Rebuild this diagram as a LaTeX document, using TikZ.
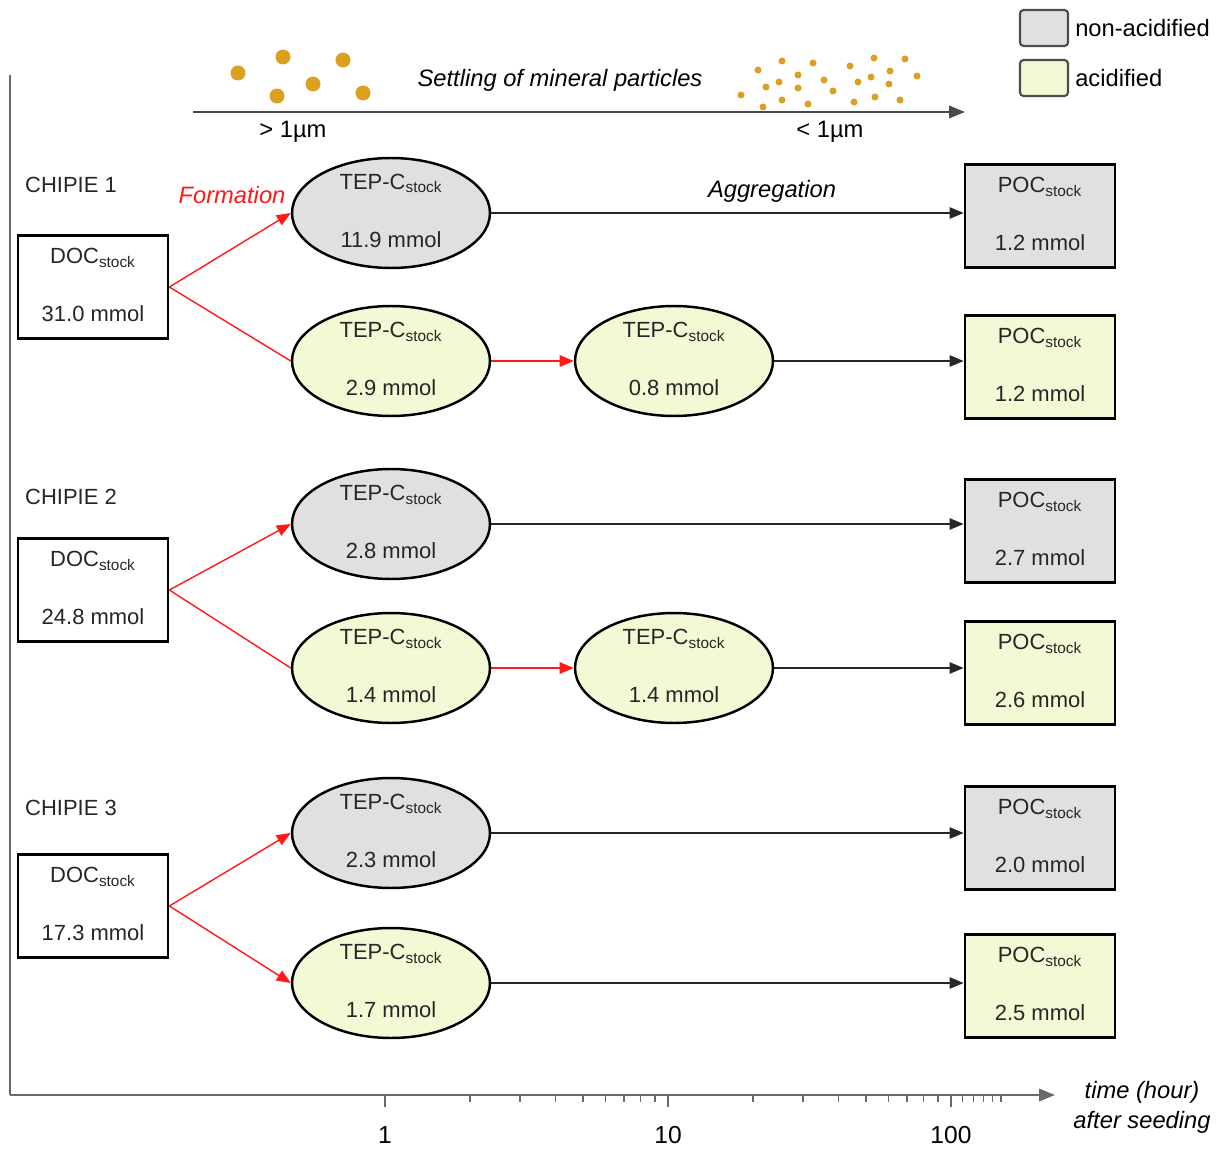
\documentclass[tikz,border=0pt]{standalone}
\usepackage{fontspec}
\setmainfont{Liberation Sans}
\usepackage{tikz}
\usetikzlibrary{arrows.meta, shapes.geometric, calc}
\definecolor{nonAcid}{RGB}{224, 224, 224}
\definecolor{acid}{RGB}{241, 250, 213}
\definecolor{mineral}{RGB}{218, 160, 30}
\definecolor{axGray}{RGB}{105, 105, 105}
\newcommand{\stk}{\textsubscript{stock}}
\newcommand{\twolines}[2]{\smash{\raisebox{-3.4pt}{\begin{tabular}{@{}c@{}}#1\\[19.7pt]#2\end{tabular}}}}

\begin{document}
\begin{tikzpicture}[
        x=0.02cm, y=-0.02cm,
        font=\fontsize{12.5}{13.8}\selectfont\color{black!85},
        tep/.style={ellipse, draw=black, line width=1.4pt, minimum width=3.96cm,
            minimum height=2.2cm, inner sep=0pt},
        stockbox/.style={rectangle, draw=black, line width=1.6pt, minimum width=3.0cm,
            minimum height=2.06cm, inner sep=0pt},
        arr/.style={-{Triangle[length=8pt, width=6.5pt]}, line width=0.8pt, black!85},
        farr/.style={arr, red!90!white},
        fline/.style={line width=0.8pt, red!90!white},
        axarr/.style={-{Triangle[length=9pt, width=7pt]}, line width=1.3pt, axGray},
        lbl/.style={font=\fontsize{13.5}{15}\selectfont\itshape},
        legbox/.style={rectangle, rounded corners=2pt, draw=black!70, line width=1.2pt,
            minimum width=0.96cm, minimum height=0.72cm}
    ]
    \useasboundingbox (0,0) rectangle (1225,1149);

    % legend
    \node[legbox, fill=nonAcid] (legn) at (1044,28) {};
    \node[legbox, fill=acid]    (lega) at (1044,78) {};
    \node[anchor=west, font=\fontsize{13.5}{15}\selectfont] (legnt) at (legn.east) {non-acidified};
    \node[anchor=west, font=\fontsize{13.5}{15}\selectfont] (legat) at (lega.east) {acidified};

    % settling of mineral particles
    \foreach \px/\py in {238/73, 283/57, 343/60, 313/84, 277/96, 363/93}
        \fill[mineral] (\px,\py) circle (0.15cm);
    \foreach \px/\py in {758/70, 782/61, 813/63, 850/66, 874/58, 905/59, 798/75, 779/82,
            824/80, 766/87, 798/88, 858/82, 871/77, 890/71, 917/76, 889/84, 741/95,
            833/91, 782/100, 763/107, 808/104, 854/102, 875/97, 900/100}
        \fill[mineral] (\px,\py) circle (0.07cm);
    \coordinate (s0) at (193,112);
    \coordinate (s1) at (965,112);
    \draw[axarr, axGray!70!black] (s0) -- (s1);
    \node[lbl] (settle) at (560,80) {Settling of mineral particles};
    \node[font=\fontsize{13.5}{15}\selectfont] (big) at (293,132) {> 1µm};
    \node[font=\fontsize{13.5}{15}\selectfont] (small) at (830,132) {< 1µm};

    % time axis
    \coordinate (ytop) at (10,75);
    \coordinate (o) at (10,1095);
    \coordinate (xend) at (1055,1095);
    \draw[axGray, line width=1pt] (ytop) -- (o);
    \draw[axarr] (o) -- (xend);
    \foreach \d/\t in {385/1, 668/10, 951/100} {
        \draw[axGray, line width=0.8pt] (\d,1095) -- ++(0,12);
        \node[font=\fontsize{14}{16}\selectfont] at (\d,1135) {\t};
    }
    \foreach \d in {385, 668}
        \foreach \m in {2,...,9}
            \draw[axGray, line width=0.8pt] ({\d+283*log10(\m)},1095) -- ++(0,7);
    \foreach \m in {1.1, 1.2, 1.3, 1.4, 1.5}
        \draw[axGray, line width=0.8pt] ({951+283*log10(\m)},1095) -- ++(0,7);
    \node[align=center, font=\fontsize{13.5}{17}\selectfont\itshape] (tlab) at (1142,1107)
        {time (hour)\\after seeding};

    % CHIPIE 1
    \node[anchor=west] (c1) at (19,185) {CHIPIE 1};
    \node[stockbox] (doc1) at (93,287) {\twolines{DOC\stk}{31.0 mmol}};
    \node[tep, fill=nonAcid] (tep1n) at (391,213) {\twolines{TEP-C\stk}{11.9 mmol}};
    \node[tep, fill=acid] (tep1a) at (391,361) {\twolines{TEP-C\stk}{2.9 mmol}};
    \node[tep, fill=acid] (tep1b) at (674,361) {\twolines{TEP-C\stk}{0.8 mmol}};
    \node[stockbox, fill=nonAcid] (poc1n) at (1040,216) {\twolines{POC\stk}{1.2 mmol}};
    \node[stockbox, fill=acid] (poc1a) at (1040,367) {\twolines{POC\stk}{1.2 mmol}};
    \node[lbl, red!90!white] (form) at (232,195) {Formation};
    \node[lbl] (agg) at (772,191) {Aggregation};

    \draw[farr] (doc1.east) -- (tep1n.west);
    \draw[fline] (doc1.east) -- (tep1a.west);
    \draw[farr] (tep1a.east) -- (tep1b.west);
    \draw[arr] (tep1n.east) -- (tep1n.east -| poc1n.west);
    \draw[arr] (tep1b.east) -- (tep1b.east -| poc1a.west);

    % CHIPIE 2
    \node[anchor=west] (c2) at (19,497) {CHIPIE 2};
    \node[stockbox] (doc2) at (93,590) {\twolines{DOC\stk}{24.8 mmol}};
    \node[tep, fill=nonAcid] (tep2n) at (391,524) {\twolines{TEP-C\stk}{2.8 mmol}};
    \node[tep, fill=acid] (tep2a) at (391,668) {\twolines{TEP-C\stk}{1.4 mmol}};
    \node[tep, fill=acid] (tep2b) at (674,668) {\twolines{TEP-C\stk}{1.4 mmol}};
    \node[stockbox, fill=nonAcid] (poc2n) at (1040,531) {\twolines{POC\stk}{2.7 mmol}};
    \node[stockbox, fill=acid] (poc2a) at (1040,673) {\twolines{POC\stk}{2.6 mmol}};

    \draw[farr] (doc2.east) -- (tep2n.west);
    \draw[fline] (doc2.east) -- (tep2a.west);
    \draw[farr] (tep2a.east) -- (tep2b.west);
    \draw[arr] (tep2n.east) -- (tep2n.east -| poc2n.west);
    \draw[arr] (tep2b.east) -- (tep2b.east -| poc2a.west);

    % CHIPIE 3
    \node[anchor=west] (c3) at (19,808) {CHIPIE 3};
    \node[stockbox] (doc3) at (93,906) {\twolines{DOC\stk}{17.3 mmol}};
    \node[tep, fill=nonAcid] (tep3n) at (391,833) {\twolines{TEP-C\stk}{2.3 mmol}};
    \node[tep, fill=acid] (tep3a) at (391,983) {\twolines{TEP-C\stk}{1.7 mmol}};
    \node[stockbox, fill=nonAcid] (poc3n) at (1040,838) {\twolines{POC\stk}{2.0 mmol}};
    \node[stockbox, fill=acid] (poc3a) at (1040,986) {\twolines{POC\stk}{2.5 mmol}};

    \draw[farr] (doc3.east) -- (tep3n.west);
    \draw[farr] (doc3.east) -- (tep3a.west);
    \draw[arr] (tep3n.east) -- (tep3n.east -| poc3n.west);
    \draw[arr] (tep3a.east) -- (tep3a.east -| poc3a.west);
\end{tikzpicture}
\end{document}
